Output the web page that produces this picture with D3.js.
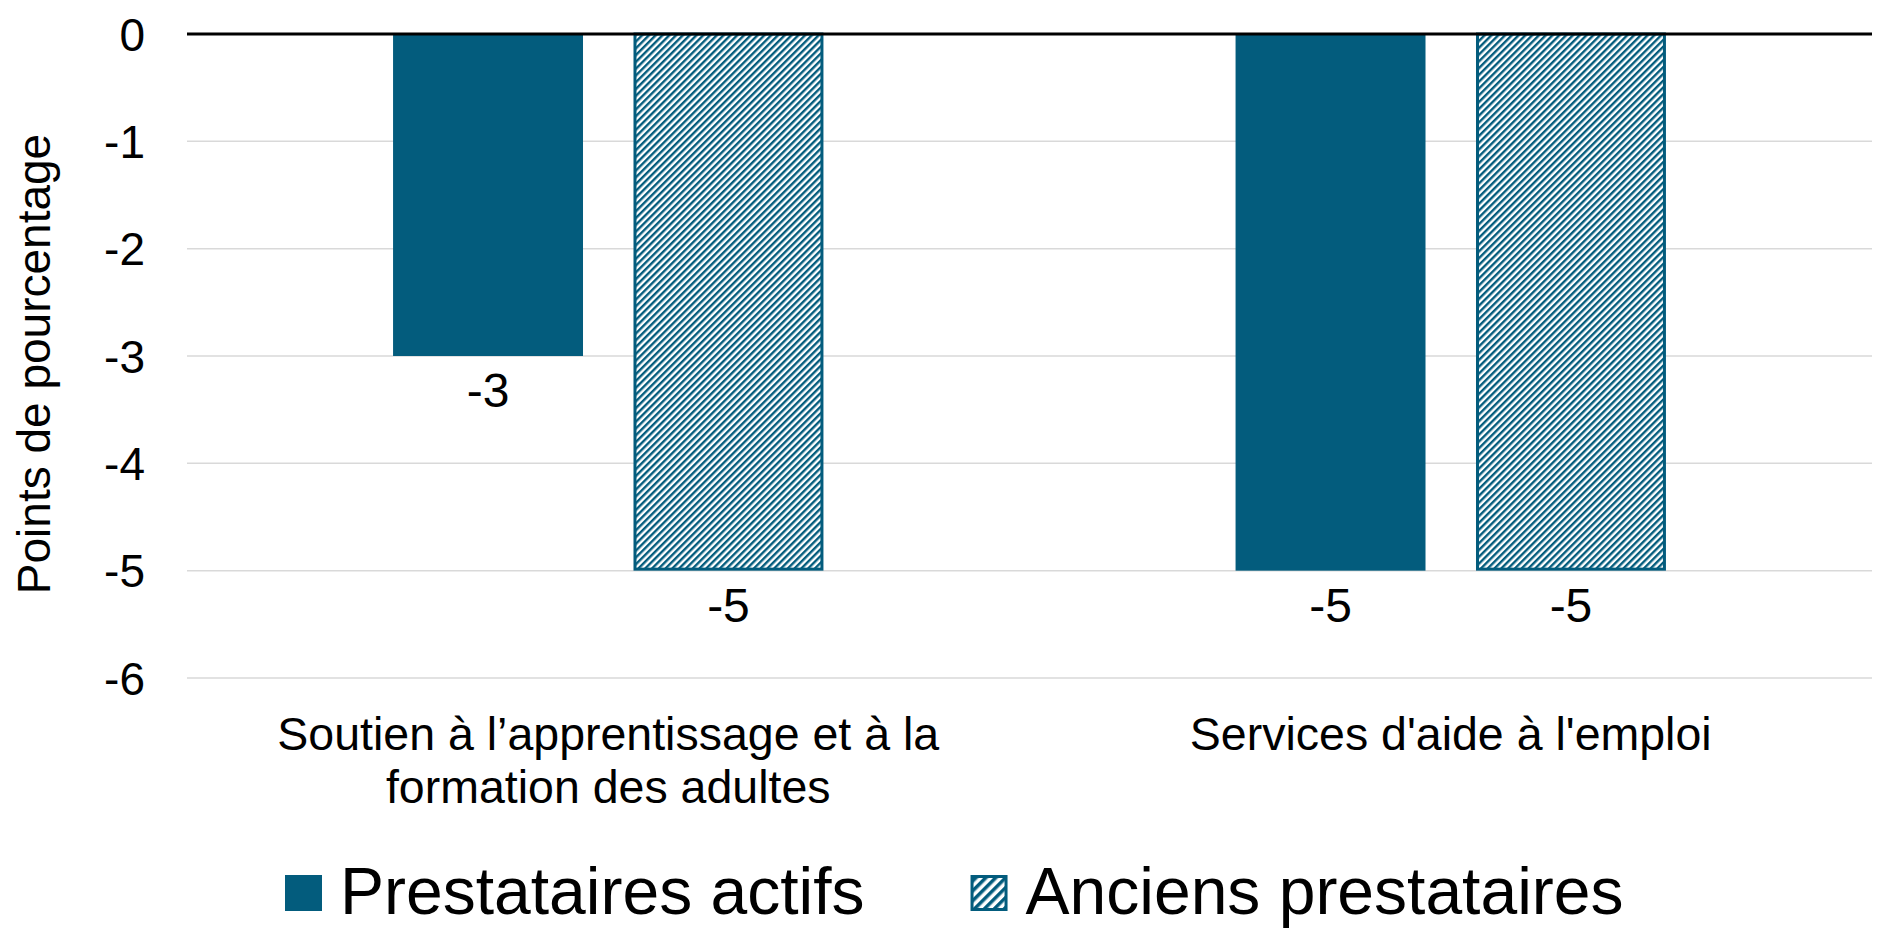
<!DOCTYPE html>
<html>
<head>
<meta charset="utf-8">
<script src="https://cdn.jsdelivr.net/npm/d3@7"></script>
<style>
body { margin: 0; background: #fff; }
text { font-family: "Liberation Sans", Arial, sans-serif; fill: #000; }
</style>
</head>
<body>
<div id="chart"></div>
<script>
var width = 1890,
	height = 945;

// data
var categories = ["Soutien à l’apprentissage et à la formation des adultes", "Services d'aide à l'emploi"];
var series = ["Prestataires actifs", "Anciens prestataires"];
var actifs = [-3, -5];
var anciens = [-5, -5];
var yTicks = [0, -1, -2, -3, -4, -5, -6];

var teal = "#035c7d";

var margin = {left: 187, right: 18, top: 34, bottom: 267};

var svg = d3.select('#chart')
	.append('svg')
	.attr('width', width)
	.attr('height', height);

var defs = svg.append('defs');
function hatch(id, w) {
	var p = defs.append('pattern')
		.attr('id', id)
		.attr('patternUnits', 'userSpaceOnUse')
		.attr('width', w)
		.attr('height', 20)
		.attr('patternTransform', 'rotate(45)');
	p.append('rect').attr('width', w).attr('height', 20).attr('fill', '#fff');
	p.append('rect').attr('width', w * 0.5).attr('height', 20).attr('fill', teal);
}
hatch('hatch', 4.8);
hatch('hatch-big', 7);

var y = d3.scaleLinear()
	.domain([-6, 0])
	.range([height - margin.bottom, margin.top]);

var x0 = d3.scaleBand()
	.domain(categories)
	.range([margin.left, width - margin.right]);

var x1 = d3.scaleBand()
	.domain(series)
	.range([0, x0.bandwidth()])
	.paddingInner(0.21)
	.paddingOuter(0.857);

// gridlines
svg.append('g')
	.selectAll('line')
	.data(yTicks.filter(function(d) { return d != 0; }))
	.join('line')
	.attr('x1', margin.left)
	.attr('x2', width - margin.right)
	.attr('y1', function(d) { return y(d); })
	.attr('y2', function(d) { return y(d); })
	.attr('stroke', '#d9d9d9')
	.attr('stroke-width', 1.5);

// y axis labels
var yAxis = d3.axisLeft(y).tickValues(yTicks).tickSize(0).tickPadding(0)
	.tickFormat(function(d) { return String(d); });
svg.append('g')
	.attr('transform', 'translate(145,0)')
	.call(yAxis)
	.call(function(g) {
		g.select('.domain').remove();
		g.selectAll('text')
			.attr('font-size', 46)
			.attr('font-family', '"Liberation Sans", Arial, sans-serif')
			.attr('fill', '#000')
			.attr('dy', '0.35em');
	});

svg.append('text')
	.attr('transform', 'translate(50,364) rotate(-90)')
	.attr('text-anchor', 'middle')
	.attr('font-size', 46)
	.text('Points de pourcentage');

// bars
var rows = categories.map(function(c, i) {
	return [{cat: c, s: series[0], v: actifs[i]}, {cat: c, s: series[1], v: anciens[i]}];
});

var groups = svg.append('g')
	.selectAll('g')
	.data(rows)
	.join('g')
	.attr('transform', function(d) { return 'translate(' + x0(d[0].cat) + ',0)'; });

groups.selectAll('rect')
	.data(function(d) { return d; })
	.join('rect')
	.attr('x', function(d) { return x1(d.s) + (d.s == series[1] ? 1.5 : 0); })
	.attr('width', function(d) { return x1.bandwidth() - (d.s == series[1] ? 3 : 0); })
	.attr('y', y(0))
	.attr('height', function(d) { return y(d.v) - y(0) - (d.s == series[1] ? 1.5 : 0); })
	.attr('fill', function(d) { return d.s == series[0] ? teal : 'url(#hatch)'; })
	.attr('stroke', function(d) { return d.s == series[0] ? 'none' : teal; })
	.attr('stroke-width', 3);

groups.selectAll('text')
	.data(function(d) { return d; })
	.join('text')
	.attr('x', function(d) { return x1(d.s) + x1.bandwidth() / 2; })
	.attr('y', function(d) { return y(d.v) + 51; })
	.attr('text-anchor', 'middle')
	.attr('font-size', 48)
	.text(function(d) { return d.v; });

// zero line
svg.append('line')
	.attr('x1', margin.left)
	.attr('x2', width - margin.right)
	.attr('y1', y(0))
	.attr('y2', y(0))
	.attr('stroke', '#000')
	.attr('stroke-width', 3);

// category labels, wrapped
function wrap(label, maxW, size) {
	var words = label.split(' '), lines = [], line = '';
	var probe = svg.append('text').attr('font-size', size);
	words.forEach(function(w) {
		var test = line ? line + ' ' + w : w;
		probe.text(test);
		if (probe.node().getComputedTextLength() > maxW && line) {
			lines.push(line);
			line = w;
		} else line = test;
	});
	lines.push(line);
	probe.remove();
	return lines;
}

categories.forEach(function(c) {
	var t = svg.append('text')
		.attr('text-anchor', 'middle')
		.attr('font-size', 46.5);
	wrap(c, 720, 46.5).forEach(function(l, i) {
		t.append('tspan')
			.attr('x', x0(c) + x0.bandwidth() / 2)
			.attr('y', 750 + i * 53)
			.text(l);
	});
});

// legend
var lx = 285;
series.forEach(function(s, i) {
	svg.append('rect')
		.attr('x', lx + (i ? 1.5 : 0))
		.attr('y', 875 + (i ? 1.5 : 0))
		.attr('width', i ? 34 : 37)
		.attr('height', i ? 33 : 36)
		.attr('fill', i ? 'url(#hatch-big)' : teal)
		.attr('stroke', i ? teal : 'none')
		.attr('stroke-width', 3);
	var t = svg.append('text')
		.attr('x', lx + 55)
		.attr('y', 914)
		.attr('font-size', 66)
		.text(s);
	lx += 55 + t.node().getComputedTextLength() + 106;
});
</script>
</body>
</html>
